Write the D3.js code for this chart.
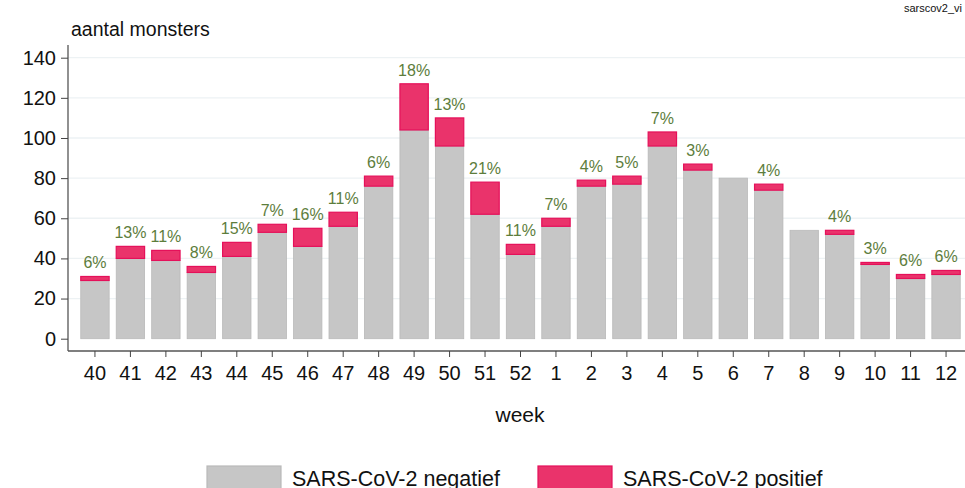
<!DOCTYPE html>
<html>
<head>
<meta charset="utf-8">
<script src="https://cdn.jsdelivr.net/npm/d3@7"></script>
<style>
  body { margin: 0; background: #fff; }
  text { font-family: "Liberation Sans", Arial, sans-serif; }
</style>
</head>
<body>
<script>
// ---- data ----
var weeks = ['40','41','42','43','44','45','46','47','48','49','50','51','52',
             '1','2','3','4','5','6','7','8','9','10','11','12'];
var negatief = [29,40,39,33,41,53,46,56,76,104,96,62,42,56,76,77,96,84,80,74,54,52,37,30,32];
var positief = [2,6,5,3,7,4,9,7,5,23,14,16,5,4,3,4,7,3,0,3,0,2,1,2,2];
var yTicks = [0,20,40,60,80,100,120,140];
var seriesNames = ['SARS-CoV-2 negatief', 'SARS-CoV-2 positief'];

// ---- layout / style ----
var W = 965, H = 488;
var m = {left: 68, top: 45, bottom: 351, right: 973};
var colNeg = '#c6c6c6', strokeNeg = '#b9b9b9';
var colPos = '#ea336b', strokePos = '#e5105a';
var labelCol = '#5d7d3c';

var svg = d3.select('body').append('svg').attr('width', W).attr('height', H);

var x = d3.scaleBand().domain(weeks).range([m.left, m.right]).paddingInner(0.2).paddingOuter(0.36);
var y = d3.scaleLinear().domain([0, 140]).range([338.7, 57.7]);

// gridlines
svg.append('g').selectAll('line').data(yTicks.slice(1)).join('line')
  .attr('x1', m.left).attr('x2', W)
  .attr('y1', d => y(d)).attr('y2', d => y(d))
  .attr('stroke', '#edf2f4').attr('stroke-width', 1.3);

var rows = weeks.map((w, i) => ({week: w, neg: negatief[i], pos: positief[i]}));

// negative bars
svg.append('g').selectAll('rect').data(rows).join('rect')
  .attr('x', d => x(d.week)).attr('width', x.bandwidth())
  .attr('y', d => y(d.neg)).attr('height', d => y(0) - y(d.neg))
  .attr('fill', colNeg).attr('stroke', strokeNeg).attr('stroke-width', 0.8);

// positive bars stacked
svg.append('g').selectAll('rect').data(rows.filter(d => d.pos > 0)).join('rect')
  .attr('x', d => x(d.week)).attr('width', x.bandwidth())
  .attr('y', d => y(d.neg + d.pos)).attr('height', d => y(d.neg) - y(d.neg + d.pos))
  .attr('fill', colPos).attr('stroke', strokePos).attr('stroke-width', 1.2);

// percentage labels
svg.append('g').selectAll('text').data(rows.filter(d => d.pos > 0)).join('text')
  .attr('x', d => x(d.week) + x.bandwidth() / 2)
  .attr('y', d => y(d.neg + d.pos) - 8)
  .attr('text-anchor', 'middle')
  .attr('font-size', 16).attr('fill', labelCol)
  .text(d => Math.round(100 * d.pos / (d.neg + d.pos)) + '%');

// y axis
var yAxis = svg.append('g').attr('transform', 'translate(' + m.left + ',0)')
  .call(d3.axisLeft(y).tickValues(yTicks).tickSize(7).tickPadding(5));
yAxis.select('.domain').attr('d', 'M0,' + m.top + 'V' + m.bottom).attr('stroke', '#555').attr('stroke-width', 1.3);
yAxis.selectAll('.tick line').attr('stroke', '#444');
yAxis.selectAll('.tick text').attr('font-size', 20).attr('fill', '#111')
  .attr('font-family', '"Liberation Sans", Arial, sans-serif');

// x axis
var xAxis = svg.append('g').attr('transform', 'translate(0,' + m.bottom + ')')
  .call(d3.axisBottom(x).tickSize(6).tickPadding(9));
xAxis.select('.domain').attr('d', 'M' + m.left + ',0H' + W).attr('stroke', '#555').attr('stroke-width', 1.3);
xAxis.selectAll('.tick line').attr('stroke', '#444');
xAxis.selectAll('.tick text').attr('font-size', 20).attr('fill', '#111')
  .attr('font-family', '"Liberation Sans", Arial, sans-serif');

// titles
svg.append('text').attr('x', 71).attr('y', 36).attr('font-size', 19.5).attr('fill', '#111').text('aantal monsters');
svg.append('text').attr('x', 520).attr('y', 422).attr('text-anchor', 'middle')
  .attr('font-size', 21).attr('fill', '#111').text('week');
svg.append('text').attr('x', 962).attr('y', 12).attr('text-anchor', 'end')
  .attr('font-size', 11).attr('fill', '#111').text('sarscov2_vi');

// legend
var legX = [207, 538];
var leg = svg.append('g').selectAll('g').data(seriesNames).join('g')
  .attr('transform', (d, i) => 'translate(' + legX[i] + ',466)');
leg.append('rect').attr('width', 74).attr('height', 24)
  .attr('fill', (d, i) => i ? colPos : colNeg)
  .attr('stroke', (d, i) => i ? strokePos : strokeNeg).attr('stroke-width', 1.2);
leg.append('text').attr('x', 85).attr('y', 20).attr('font-size', 21.5).attr('fill', '#111').text(d => d);
</script>
</body>
</html>
